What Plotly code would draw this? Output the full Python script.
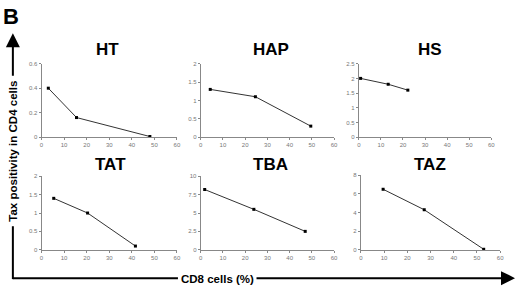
import plotly.graph_objects as go

W, H = 520, 287

titles = ["HT", "HAP", "HS", "TAT", "TBA", "TAZ"]
x_ht = [3, 15.5, 48]
y_ht = [0.40, 0.16, 0.005]
x_hap = [4.3, 24.6, 49.5]
y_hap = [1.3, 1.1, 0.3]
x_hs = [0.8, 13.3, 22.2]
y_hs = [2.0, 1.8, 1.6]
x_tat = [5.4, 20.4, 41.6]
y_tat = [1.4, 1.0, 0.1]
x_tba = [1.8, 23.9, 47.0]
y_tba = [8.2, 5.5, 2.5]
x_taz = [9.6, 27.3, 52.9]
y_taz = [6.5, 4.3, 0.05]

xs = [x_ht, x_hap, x_hs, x_tat, x_tba, x_taz]
ys = [y_ht, y_hap, y_hs, y_tat, y_tba, y_taz]
y_max = [0.6, 2, 2.5, 2, 10, 8]
y_dtick = [0.2, 0.5, 0.5, 0.5, 2.5, 2]

# pixel boxes (left, right, top, bottom)
boxes = [(40, 177, 62, 137), (201, 336, 62, 137), (361, 495, 62, 137),
         (40, 177, 177, 252), (201, 336, 177, 252), (363, 504, 176, 252)]
title_pos = [(107, 47), (272, 47), (433, 47), (110, 165), (272, 165), (433, 165)]

def px(x):
    return x / W

def py(y):
    return 1 - y / H

fig = go.Figure()
tick_font = dict(family="Liberation Sans, Arial", size=6, color="#777777")

for i in range(6):
    n = "" if i == 0 else str(i + 1)
    fig.add_trace(go.Scatter(
        x=xs[i], y=ys[i], mode="lines+markers",
        line=dict(color="#333333", width=1),
        marker=dict(symbol="square", size=3, color="#000000"),
        xaxis="x" + n, yaxis="y" + n, showlegend=False, cliponaxis=False,
        hoverinfo="skip"))
    l, r, t, b = boxes[i]
    fig.update_layout(**{
        "xaxis" + n: dict(domain=[px(l), px(r)], range=[0, 60], dtick=10,
                          anchor="y" + n, showline=True, linecolor="#888888",
                          linewidth=1, showgrid=False, zeroline=False,
                          ticks="outside", ticklen=2, tickcolor="#888888",
                          tickfont=tick_font, fixedrange=True),
        "yaxis" + n: dict(domain=[py(b), py(t)], range=[0, y_max[i]],
                          dtick=y_dtick[i], anchor="x" + n, showline=True,
                          linecolor="#888888", linewidth=1, showgrid=False,
                          zeroline=False, ticks="outside", ticklen=2,
                          tickcolor="#888888", tickfont=tick_font,
                          fixedrange=True),
    })
    tx, ty = title_pos[i]
    fig.add_annotation(x=px(tx), y=py(ty), xref="paper", yref="paper",
                       text="<b>" + titles[i] + "</b>", showarrow=False,
                       xanchor="center", yanchor="middle",
                       font=dict(family="Liberation Sans, Arial", size=17,
                                 color="#000000"))

# Panel letter
fig.add_annotation(x=0, y=1, xref="paper", yref="paper", text="<b>B</b>",
                   showarrow=False, xanchor="left", yanchor="top",
                   borderpad=0,
                   font=dict(family="Liberation Sans, Arial", size=22,
                             color="#000000"))

# Y axis label with arrow
fig.add_shape(type="line", xref="paper", yref="paper",
              x0=px(11), x1=px(11), y0=py(282), y1=py(228),
              line=dict(color="#000000", width=2))
fig.add_shape(type="line", xref="paper", yref="paper",
              x0=px(11), x1=px(178), y0=py(281), y1=py(281),
              line=dict(color="#000000", width=2))
fig.add_annotation(x=px(11), y=py(31), xref="paper", yref="paper",
                   ax=0, ay=44, text="", showarrow=True, arrowhead=2,
                   arrowsize=1.4, arrowwidth=2, arrowcolor="#000000",
                   standoff=0)
fig.add_annotation(x=px(11), y=py(151), xref="paper", yref="paper",
                   text="<b>Tax positivity in CD4 cells</b>", textangle=-90,
                   showarrow=False, xanchor="center", yanchor="middle",
                   borderpad=3, bgcolor="#ffffff",
                   font=dict(family="Liberation Sans, Arial", size=11.5,
                             color="#000000"))

# X axis label with arrow
fig.add_annotation(x=px(519), y=py(281), xref="paper", yref="paper",
                   ax=-260, ay=0, text="", showarrow=True, arrowhead=2,
                   arrowsize=1.4, arrowwidth=2, arrowcolor="#000000",
                   standoff=0)
fig.add_annotation(x=px(218), y=py(282), xref="paper", yref="paper",
                   text="<b>CD8 cells (%)</b>", showarrow=False,
                   xanchor="center", yanchor="middle", borderpad=1,
                   bgcolor="#ffffff",
                   font=dict(family="Liberation Sans, Arial", size=11.5,
                             color="#000000"))

fig.update_layout(width=W, height=H, margin=dict(l=0, r=0, t=0, b=0),
                  paper_bgcolor="#ffffff", plot_bgcolor="#ffffff",
                  hovermode=False)

fig.write_html("out.html", config={"displayModeBar": False},
               post_script="document.body.style.margin='0';document.body.style.padding='0';")
